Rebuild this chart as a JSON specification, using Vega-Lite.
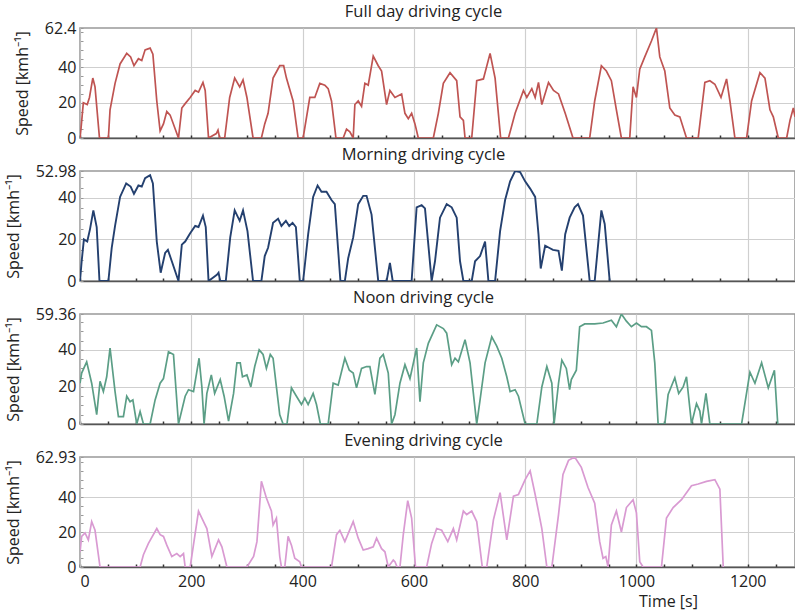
{
  "$schema": "https://vega.github.io/schema/vega-lite/v6.json",
  "padding": {"left": 4, "top": 2, "right": 0, "bottom": 0},
  "bounds": "flush",
  "spacing": 33,
  "background": "white",
  "config": {
    "font": "Open Sans",
    "view": {"stroke": "#999", "strokeWidth": 1.6},
    "title": {"font": "Open Sans", "fontSize": 16.5, "fontWeight": "normal", "color": "#222", "anchor": "middle", "dx": -14, "dy": 4, "offset": 0},
    "axis": {"labelFont": "Open Sans", "titleFont": "Open Sans", "labelFontSize": 16, "titleFontSize": 16, "labelColor": "#222", "titleColor": "#222", "titleFontWeight": "normal", "gridColor": "#cfcfcf", "gridWidth": 1.2, "labelOverlap": false},
    "axisX": {"domainColor": "#555", "domainWidth": 1.5, "tickColor": "#333", "tickWidth": 1.5, "tickSize": -3},
    "axisY": {"domainColor": "#bbb", "domainWidth": 1, "tickColor": "#999", "tickWidth": 1, "tickSize": -3, "labelPadding": 7, "titlePadding": 14,
      "labelExpr": "(datum.value === 0 || datum.value === 20 || datum.value === 40 || datum.value % 5 !== 0) ? '' + datum.value : ''"}
  },
  "datasets": {
    "full": [
      {"t":0,"v":0},{"t":2,"v":6},{"t":6,"v":20},{"t":13,"v":19},{"t":17,"v":23},{"t":23,"v":34},{"t":27,"v":29},{"t":35,"v":0},{"t":51,"v":0},{"t":54,"v":16},{"t":63,"v":31},{"t":72,"v":42},{"t":84,"v":48},{"t":91,"v":46},{"t":97,"v":41},{"t":105,"v":45},{"t":111,"v":44},{"t":117,"v":50},{"t":126,"v":51},{"t":131,"v":47.5},{"t":138,"v":21},{"t":144,"v":4},{"t":150,"v":8},{"t":156,"v":15},{"t":162,"v":13},{"t":177,"v":0},{"t":183,"v":17},{"t":189,"v":19.5},{"t":198,"v":23},{"t":207,"v":27},{"t":213,"v":26},{"t":221,"v":31.5},{"t":225,"v":27},{"t":231,"v":0},{"t":245,"v":2.5},{"t":248,"v":4.5},{"t":251,"v":0},{"t":260,"v":0},{"t":269,"v":23},{"t":278,"v":34},{"t":287,"v":29},{"t":293,"v":33},{"t":300,"v":23},{"t":311,"v":0},{"t":326,"v":0},{"t":332,"v":8},{"t":338,"v":14},{"t":347,"v":34},{"t":359,"v":41},{"t":366,"v":41},{"t":371,"v":34},{"t":383,"v":21},{"t":392,"v":0},{"t":401,"v":0},{"t":413,"v":23},{"t":422,"v":23},{"t":431,"v":31},{"t":440,"v":30},{"t":446,"v":28},{"t":452,"v":21},{"t":460,"v":0},{"t":473,"v":0},{"t":479,"v":5},{"t":485,"v":3.5},{"t":491,"v":0},{"t":494,"v":19},{"t":500,"v":21},{"t":506,"v":18},{"t":512,"v":31},{"t":518,"v":30},{"t":527,"v":46.5},{"t":536,"v":41},{"t":542,"v":38},{"t":551,"v":19},{"t":557,"v":27},{"t":566,"v":23},{"t":578,"v":25},{"t":584,"v":14},{"t":590,"v":11},{"t":596,"v":14},{"t":602,"v":8},{"t":608,"v":0},{"t":635,"v":0},{"t":644,"v":14},{"t":653,"v":31},{"t":665,"v":37},{"t":677,"v":32.5},{"t":683,"v":12},{"t":689,"v":10},{"t":692,"v":0},{"t":704,"v":0},{"t":713,"v":32.5},{"t":725,"v":33.5},{"t":737,"v":48},{"t":746,"v":34},{"t":756,"v":0},{"t":770,"v":0},{"t":782,"v":14},{"t":797,"v":27},{"t":803,"v":23},{"t":812,"v":28},{"t":818,"v":23},{"t":824,"v":31.5},{"t":830,"v":19},{"t":842,"v":31.5},{"t":851,"v":27},{"t":860,"v":25},{"t":872,"v":14},{"t":886,"v":0},{"t":916,"v":0},{"t":925,"v":21},{"t":937,"v":41},{"t":946,"v":38},{"t":955,"v":32.5},{"t":964,"v":16},{"t":973,"v":0},{"t":988,"v":0},{"t":994,"v":29},{"t":1000,"v":23},{"t":1006,"v":39},{"t":1015,"v":46},{"t":1027,"v":55},{"t":1036,"v":62.4},{"t":1042,"v":46},{"t":1051,"v":38},{"t":1060,"v":17},{"t":1069,"v":13},{"t":1078,"v":12},{"t":1090,"v":0},{"t":1111,"v":0},{"t":1123,"v":31.5},{"t":1132,"v":32.5},{"t":1141,"v":30.5},{"t":1152,"v":23},{"t":1162,"v":33.5},{"t":1168,"v":21},{"t":1177,"v":0},{"t":1198,"v":0},{"t":1207,"v":21},{"t":1222,"v":37},{"t":1231,"v":34},{"t":1240,"v":16},{"t":1246,"v":12},{"t":1255,"v":0},{"t":1270,"v":0},{"t":1276,"v":10},{"t":1282,"v":17},{"t":1285,"v":12}
    ],
    "morning": [
      {"t":0,"v":0},{"t":3,"v":9.5},{"t":7,"v":20},{"t":13,"v":19},{"t":18,"v":25},{"t":24,"v":34},{"t":30,"v":26},{"t":35,"v":0},{"t":51,"v":0},{"t":57,"v":16},{"t":63,"v":26.5},{"t":72,"v":40.5},{"t":83,"v":47},{"t":91,"v":45.5},{"t":97,"v":42},{"t":105,"v":46},{"t":111,"v":45.5},{"t":117,"v":49.5},{"t":126,"v":51},{"t":131,"v":47},{"t":138,"v":19},{"t":145,"v":4},{"t":153,"v":13.5},{"t":158,"v":15},{"t":165,"v":9.5},{"t":177,"v":0},{"t":183,"v":17.5},{"t":189,"v":19},{"t":198,"v":23},{"t":207,"v":26.5},{"t":213,"v":26},{"t":221,"v":31.5},{"t":226,"v":26},{"t":231,"v":0},{"t":246,"v":3},{"t":249,"v":4},{"t":252,"v":0},{"t":262,"v":0},{"t":270,"v":21},{"t":278,"v":34},{"t":287,"v":29},{"t":293,"v":34},{"t":301,"v":24},{"t":311,"v":0},{"t":326,"v":0},{"t":332,"v":12},{"t":338,"v":16},{"t":347,"v":28},{"t":356,"v":30},{"t":362,"v":26.5},{"t":370,"v":29},{"t":376,"v":26.5},{"t":382,"v":28},{"t":388,"v":26},{"t":395,"v":0},{"t":401,"v":0},{"t":410,"v":22.5},{"t":419,"v":40.5},{"t":427,"v":46},{"t":434,"v":43},{"t":443,"v":43},{"t":452,"v":39},{"t":458,"v":37},{"t":468,"v":0},{"t":476,"v":0},{"t":482,"v":11},{"t":491,"v":21},{"t":500,"v":37},{"t":509,"v":41},{"t":515,"v":41},{"t":524,"v":32},{"t":536,"v":0},{"t":551,"v":0},{"t":557,"v":8.7},{"t":562,"v":0},{"t":596,"v":0},{"t":605,"v":35.5},{"t":614,"v":36.5},{"t":620,"v":35},{"t":632,"v":0},{"t":638,"v":9.5},{"t":647,"v":30.5},{"t":659,"v":37},{"t":668,"v":35.5},{"t":677,"v":30.5},{"t":683,"v":9.5},{"t":689,"v":0},{"t":704,"v":0},{"t":710,"v":9.5},{"t":719,"v":12},{"t":728,"v":19},{"t":734,"v":0},{"t":746,"v":0},{"t":755,"v":24},{"t":764,"v":39},{"t":773,"v":48},{"t":782,"v":52.98},{"t":791,"v":52.5},{"t":800,"v":48},{"t":809,"v":44.5},{"t":818,"v":40.5},{"t":824,"v":22.5},{"t":828,"v":6},{"t":836,"v":17},{"t":843,"v":16},{"t":850,"v":15},{"t":860,"v":14.5},{"t":866,"v":5},{"t":872,"v":22.5},{"t":880,"v":30.5},{"t":889,"v":35.5},{"t":895,"v":37},{"t":904,"v":31.5},{"t":916,"v":0},{"t":925,"v":0},{"t":937,"v":34},{"t":943,"v":27.5},{"t":952,"v":0}
    ],
    "noon": [
      {"t":0,"v":22},{"t":3,"v":27.5},{"t":12,"v":33.5},{"t":21,"v":22},{"t":30,"v":5},{"t":36,"v":23},{"t":42,"v":17.5},{"t":48,"v":25.5},{"t":54,"v":41},{"t":63,"v":17.5},{"t":69,"v":4},{"t":78,"v":4},{"t":84,"v":15},{"t":90,"v":12},{"t":95,"v":13},{"t":102,"v":0},{"t":108,"v":6.7},{"t":114,"v":0},{"t":126,"v":0},{"t":135,"v":13},{"t":144,"v":22},{"t":150,"v":24.5},{"t":159,"v":39},{"t":168,"v":37.5},{"t":177,"v":0},{"t":189,"v":15},{"t":195,"v":18.5},{"t":204,"v":17.5},{"t":214,"v":35.5},{"t":219,"v":20},{"t":223,"v":0},{"t":228,"v":16.5},{"t":236,"v":26.5},{"t":242,"v":16.5},{"t":252,"v":24},{"t":259,"v":15},{"t":267,"v":1.5},{"t":276,"v":16.5},{"t":282,"v":33},{"t":288,"v":33},{"t":292,"v":25.5},{"t":300,"v":26.5},{"t":307,"v":20},{"t":314,"v":31},{"t":322,"v":40},{"t":329,"v":37.5},{"t":335,"v":30},{"t":342,"v":37.5},{"t":347,"v":35.5},{"t":353,"v":20},{"t":359,"v":5},{"t":365,"v":0},{"t":372,"v":0},{"t":380,"v":19.5},{"t":389,"v":15},{"t":398,"v":10.5},{"t":404,"v":14},{"t":410,"v":10.5},{"t":419,"v":16.5},{"t":425,"v":10.5},{"t":432,"v":0},{"t":446,"v":0},{"t":455,"v":22},{"t":464,"v":21},{"t":476,"v":35.5},{"t":484,"v":29},{"t":491,"v":27.5},{"t":497,"v":19.5},{"t":506,"v":30},{"t":515,"v":31},{"t":521,"v":31},{"t":530,"v":16},{"t":539,"v":35.5},{"t":545,"v":37.5},{"t":554,"v":27.5},{"t":560,"v":0},{"t":566,"v":5},{"t":575,"v":22},{"t":584,"v":32},{"t":593,"v":24.5},{"t":605,"v":41},{"t":611,"v":12},{"t":617,"v":33},{"t":626,"v":43.5},{"t":641,"v":53.5},{"t":653,"v":51.5},{"t":659,"v":49},{"t":668,"v":32},{"t":674,"v":35.5},{"t":680,"v":33.5},{"t":692,"v":45.5},{"t":701,"v":33},{"t":713,"v":0},{"t":719,"v":13},{"t":728,"v":33},{"t":740,"v":47},{"t":749,"v":42},{"t":758,"v":35.5},{"t":767,"v":25.5},{"t":773,"v":17.5},{"t":782,"v":18.5},{"t":788,"v":15},{"t":800,"v":0},{"t":821,"v":0},{"t":830,"v":20},{"t":839,"v":31},{"t":848,"v":22},{"t":852,"v":0},{"t":860,"v":22},{"t":866,"v":34.5},{"t":874,"v":30},{"t":880,"v":18.5},{"t":883,"v":24},{"t":892,"v":29},{"t":898,"v":52.5},{"t":907,"v":54},{"t":925,"v":54},{"t":940,"v":54.5},{"t":955,"v":56},{"t":964,"v":52.5},{"t":973,"v":59.36},{"t":982,"v":55.5},{"t":991,"v":52.5},{"t":1000,"v":54.5},{"t":1009,"v":52.5},{"t":1018,"v":52.5},{"t":1027,"v":50.5},{"t":1033,"v":33},{"t":1039,"v":0},{"t":1051,"v":0},{"t":1057,"v":16},{"t":1069,"v":25},{"t":1076,"v":16.5},{"t":1084,"v":20},{"t":1090,"v":25.5},{"t":1099,"v":0},{"t":1108,"v":11},{"t":1114,"v":7},{"t":1117,"v":0},{"t":1125,"v":16.5},{"t":1132,"v":0},{"t":1189,"v":0},{"t":1204,"v":28},{"t":1213,"v":22},{"t":1225,"v":33},{"t":1237,"v":19.5},{"t":1248,"v":29},{"t":1254,"v":0}
    ],
    "evening": [
      {"t":0,"v":8.7},{"t":3,"v":17.5},{"t":9,"v":19.5},{"t":15,"v":15.5},{"t":21,"v":26},{"t":27,"v":21},{"t":36,"v":0},{"t":108,"v":0},{"t":114,"v":7},{"t":123,"v":13.5},{"t":138,"v":22},{"t":144,"v":18.5},{"t":150,"v":17.5},{"t":156,"v":12.5},{"t":165,"v":6},{"t":174,"v":7.7},{"t":180,"v":6},{"t":186,"v":7.7},{"t":189,"v":0},{"t":198,"v":0},{"t":213,"v":32},{"t":222,"v":26},{"t":228,"v":22},{"t":237,"v":6},{"t":249,"v":15.5},{"t":255,"v":11.5},{"t":264,"v":0},{"t":300,"v":0},{"t":312,"v":6},{"t":318,"v":14.5},{"t":326,"v":49},{"t":335,"v":39.5},{"t":344,"v":32},{"t":347,"v":24},{"t":353,"v":28},{"t":359,"v":6},{"t":362,"v":0},{"t":368,"v":0},{"t":374,"v":17.5},{"t":380,"v":12.5},{"t":386,"v":5},{"t":395,"v":3},{"t":398,"v":0},{"t":452,"v":0},{"t":461,"v":18.5},{"t":467,"v":21},{"t":476,"v":14.5},{"t":491,"v":26},{"t":500,"v":16.5},{"t":509,"v":9.7},{"t":518,"v":10.5},{"t":527,"v":11.5},{"t":533,"v":16.5},{"t":542,"v":10.5},{"t":548,"v":8.7},{"t":554,"v":0},{"t":563,"v":4},{"t":566,"v":3},{"t":570,"v":0},{"t":575,"v":0},{"t":581,"v":18.5},{"t":589,"v":38},{"t":596,"v":28},{"t":603,"v":0},{"t":623,"v":0},{"t":632,"v":13.5},{"t":641,"v":22},{"t":650,"v":21},{"t":661,"v":14.5},{"t":671,"v":22},{"t":677,"v":15.5},{"t":689,"v":32},{"t":695,"v":30},{"t":704,"v":32},{"t":713,"v":26},{"t":723,"v":0},{"t":731,"v":0},{"t":743,"v":27},{"t":755,"v":42.5},{"t":767,"v":15.5},{"t":779,"v":40.5},{"t":788,"v":41.5},{"t":800,"v":50},{"t":809,"v":55},{"t":818,"v":41.5},{"t":830,"v":22},{"t":839,"v":0},{"t":848,"v":0},{"t":860,"v":30},{"t":868,"v":53},{"t":878,"v":61},{"t":889,"v":62.93},{"t":901,"v":57},{"t":913,"v":45.5},{"t":925,"v":36.5},{"t":934,"v":14.5},{"t":940,"v":5},{"t":945,"v":6},{"t":949,"v":0},{"t":955,"v":24},{"t":964,"v":32},{"t":973,"v":20},{"t":982,"v":34},{"t":994,"v":38.5},{"t":1000,"v":31},{"t":1006,"v":3},{"t":1012,"v":0},{"t":1045,"v":0},{"t":1054,"v":28},{"t":1066,"v":34},{"t":1081,"v":38.5},{"t":1099,"v":46.5},{"t":1111,"v":47.5},{"t":1126,"v":49},{"t":1141,"v":50},{"t":1150,"v":44.5},{"t":1156,"v":0}
    ]
  },
  "vconcat": [
    {
      "title": "Full day driving cycle",
      "width": 715, "height": 110,
      "data": {"name": "full"},
      "mark": {"type": "line", "color": "#bf5452", "strokeWidth": 1.7, "clip": true},
      "encoding": {
        "x": {"field": "t", "type": "quantitative", "scale": {"domain": [0, 1285], "nice": false},
          "axis": {"values": [0,50,100,150,200,250,300,350,400,450,500,550,600,650,700,750,800,850,900,950,1000,1050,1100,1150,1200,1250], "labels": false, "title": null, "maxExtent": 0, "minExtent": 0,
            "gridOpacity": {"condition": {"test": "datum.value % 200 === 0", "value": 1}, "value": 0}}},
        "y": {"field": "v", "type": "quantitative", "scale": {"domain": [0, 62.4], "nice": false},
          "axis": {"values": [0,5,10,15,20,25,30,35,40,45,50,55,60,62.4], "title": "Speed [kmh⁻¹]",
            "gridOpacity": {"condition": {"test": "datum.value === 20 || datum.value === 40", "value": 1}, "value": 0}}}
      }
    },
    {
      "title": "Morning driving cycle",
      "width": 715, "height": 110,
      "data": {"name": "morning"},
      "mark": {"type": "line", "color": "#24406f", "strokeWidth": 1.9, "clip": true},
      "encoding": {
        "x": {"field": "t", "type": "quantitative", "scale": {"domain": [0, 1285], "nice": false},
          "axis": {"values": [0,50,100,150,200,250,300,350,400,450,500,550,600,650,700,750,800,850,900,950,1000,1050,1100,1150,1200,1250], "labels": false, "title": null, "maxExtent": 0, "minExtent": 0,
            "gridOpacity": {"condition": {"test": "datum.value % 200 === 0", "value": 1}, "value": 0}}},
        "y": {"field": "v", "type": "quantitative", "scale": {"domain": [0, 52.98], "nice": false},
          "axis": {"values": [0,5,10,15,20,25,30,35,40,45,50,52.98], "title": "Speed [kmh⁻¹]",
            "gridOpacity": {"condition": {"test": "datum.value === 20 || datum.value === 40", "value": 1}, "value": 0}}}
      }
    },
    {
      "title": "Noon driving cycle",
      "width": 715, "height": 110,
      "data": {"name": "noon"},
      "mark": {"type": "line", "color": "#5b9e86", "strokeWidth": 1.7, "clip": true},
      "encoding": {
        "x": {"field": "t", "type": "quantitative", "scale": {"domain": [0, 1285], "nice": false},
          "axis": {"values": [0,50,100,150,200,250,300,350,400,450,500,550,600,650,700,750,800,850,900,950,1000,1050,1100,1150,1200,1250], "labels": false, "title": null, "maxExtent": 0, "minExtent": 0,
            "gridOpacity": {"condition": {"test": "datum.value % 200 === 0", "value": 1}, "value": 0}}},
        "y": {"field": "v", "type": "quantitative", "scale": {"domain": [0, 59.36], "nice": false},
          "axis": {"values": [0,5,10,15,20,25,30,35,40,45,50,55,59.36], "title": "Speed [kmh⁻¹]",
            "gridOpacity": {"condition": {"test": "datum.value === 20 || datum.value === 40", "value": 1}, "value": 0}}}
      }
    },
    {
      "title": "Evening driving cycle",
      "width": 715, "height": 110,
      "data": {"name": "evening"},
      "mark": {"type": "line", "color": "#d99ad2", "strokeWidth": 1.7, "clip": true},
      "encoding": {
        "x": {"field": "t", "type": "quantitative", "scale": {"domain": [0, 1285], "nice": false},
          "axis": {"values": [0,50,100,150,200,250,300,350,400,450,500,550,600,650,700,750,800,850,900,950,1000,1050,1100,1150,1200,1250],
            "labelExpr": "datum.value % 200 === 0 ? '' + datum.value : ''", "labelPadding": 9,
            "title": "Time [s]", "titleX": 588, "titleY": 26, "titleAlign": "center", "titleBaseline": "top",
            "gridOpacity": {"condition": {"test": "datum.value % 200 === 0", "value": 1}, "value": 0}}},
        "y": {"field": "v", "type": "quantitative", "scale": {"domain": [0, 62.93], "nice": false},
          "axis": {"values": [0,5,10,15,20,25,30,35,40,45,50,55,60,62.93], "title": "Speed [kmh⁻¹]",
            "gridOpacity": {"condition": {"test": "datum.value === 20 || datum.value === 40", "value": 1}, "value": 0}}}
      }
    }
  ]
}
